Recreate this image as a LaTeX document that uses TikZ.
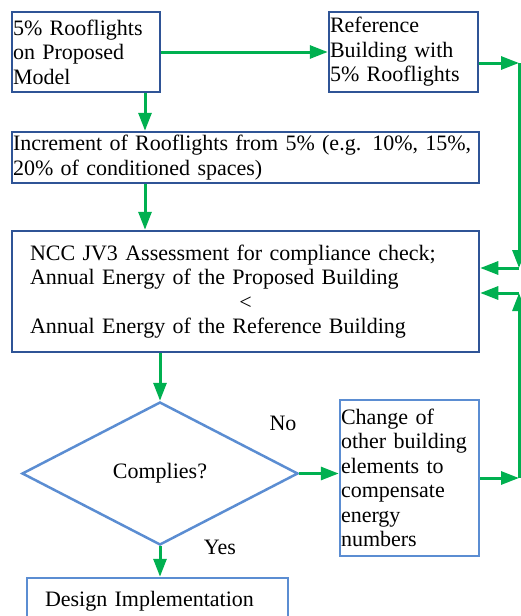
\documentclass[tikz,border=0pt]{standalone}
\usepackage{fontspec}
\setmainfont{Liberation Serif}
\usetikzlibrary{shapes.geometric,arrows.meta}
\definecolor{darkb}{HTML}{2F5496}
\definecolor{lightb}{HTML}{5B8DD2}
\definecolor{grn}{HTML}{00B050}
\newcommand\figfont{\fontsize{22}{24.5}\selectfont}
\begin{document}
\begin{tikzpicture}[x=1pt,y=-1pt,
  box/.style={draw=darkb, line width=2.5pt, rectangle, inner xsep=1pt, inner ysep=0pt, align=left, font=\figfont},
  lbox/.style={box, draw=lightb},
  arr/.style={draw=grn, line width=3pt, -{Triangle[length=18pt,width=13pt]}},
  lab/.style={font=\figfont, inner sep=0pt}]
\useasboundingbox (0,0) rectangle (521,616);
\node[box, minimum width=148pt, minimum height=80pt, text width=146pt] (prop) at (86,52)
  {\mbox{5\% Rooflights}\\\mbox{on Proposed}\\\mbox{Model}};
\node[box, minimum width=149pt, minimum height=80pt, text width=147pt] (ref) at (403.5,52)
  {\mbox{Reference}\\\mbox{Building with}\\\mbox{5\% Rooflights}};
\node[box, minimum width=467pt, minimum height=51pt, text width=465pt] (incr) at (245.5,157.5)
  {\mbox{Increment of Rooflights from 5\% (e.g. 10\%, 15\%,}\\\mbox{20\% of conditioned spaces)}};
\node[box, minimum width=467pt, minimum height=121pt, inner xsep=18pt, text width=431pt] (ncc) at (245.5,291.5)
  {\mbox{NCC JV3 Assessment for compliance check;}\\\mbox{Annual Energy of the Proposed Building}\\\makebox[431pt]{<}\\\mbox{Annual Energy of the Reference Building}};
\node[draw=lightb, line width=2.5pt, diamond, minimum width=276pt, minimum height=143pt, inner sep=0pt, font=\figfont] (dec) at (160,473.5) {Complies?};
\node[lbox, minimum width=139pt, minimum height=156pt, text width=137pt] (chg) at (409.5,478)
  {\mbox{Change of}\\\mbox{other building}\\\mbox{elements to}\\\mbox{compensate}\\\mbox{energy}\\\mbox{numbers}};
\node[lbox, minimum width=261pt, minimum height=46pt, inner xsep=18pt, text width=225pt] (des) at (157.5,601)
  {\mbox{Design Implementation}};
\node[lab] (no) at (283,423) {No};
\node[lab] (yes) at (220,547) {Yes};
\coordinate (xa) at (145,0);
\coordinate (c1) at (519,63);
\coordinate (c2) at (519,268);
\coordinate (c3) at (519,478);
\coordinate (c4) at (519,293);
\draw[arr] (prop.east) -- (ref.west);
\draw[arr] (prop.south -| xa) -- (incr.north -| xa);
\draw[arr] (incr.south -| xa) -- (ncc.north -| xa);
\draw[arr] (ncc.south -| dec.north) -- (dec.north);
\draw[arr] (dec.east) -- (chg.west |- dec.east);
\draw[arr] (dec.south) -- (des.north -| dec.south);
\draw[arr] (ref.east |- c1) -- (c1);
\draw[arr] (c1) -- (c2);
\draw[arr] (c2) -- (ncc.east |- c2);
\draw[arr] (chg.east |- c3) -- (c3);
\draw[arr] (c3) -- (c4);
\draw[arr] (c4) -- (ncc.east |- c4);
\end{tikzpicture}
\end{document}
